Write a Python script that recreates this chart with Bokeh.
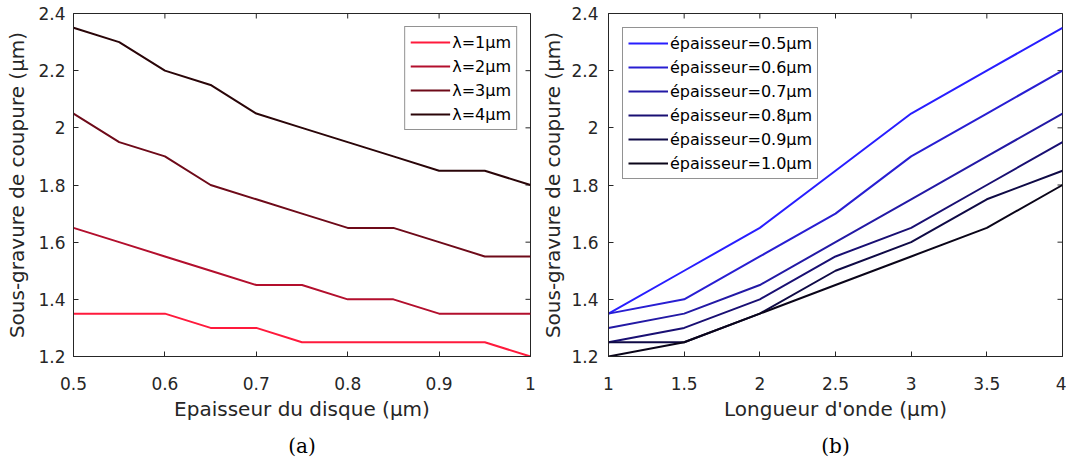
import math
from bokeh.plotting import figure
from bokeh.models import (FixedTicker, CustomJSTickFormatter, Legend,
                          LegendItem, Title, Range1d)
from bokeh.layouts import row
from bokeh.embed import file_html
from bokeh.resources import INLINE

# ---- data (a) ----
thickness = [0.5, 0.55, 0.6, 0.65, 0.7, 0.75, 0.8, 0.85, 0.9, 0.95, 1.0]
lam1 = [1.35, 1.35, 1.35, 1.30, 1.30, 1.25, 1.25, 1.25, 1.25, 1.25, 1.20]
lam2 = [1.65, 1.60, 1.55, 1.50, 1.45, 1.45, 1.40, 1.40, 1.35, 1.35, 1.35]
lam3 = [2.05, 1.95, 1.90, 1.80, 1.75, 1.70, 1.65, 1.65, 1.60, 1.55, 1.55]
lam4 = [2.35, 2.30, 2.20, 2.15, 2.05, 2.00, 1.95, 1.90, 1.85, 1.85, 1.80]
labels_a = ["λ=1μm", "λ=2μm", "λ=3μm", "λ=4μm"]
colors_a = ["#ff1a3c", "#b30f2d", "#6e0a19", "#2a0508"]

# ---- data (b) ----
wavelength = [1.0, 1.5, 2.0, 2.5, 3.0, 3.5, 4.0]
ep05 = [1.35, 1.50, 1.65, 1.85, 2.05, 2.20, 2.35]
ep06 = [1.35, 1.40, 1.55, 1.70, 1.90, 2.05, 2.20]
ep07 = [1.30, 1.35, 1.45, 1.60, 1.75, 1.90, 2.05]
ep08 = [1.25, 1.30, 1.40, 1.55, 1.65, 1.80, 1.95]
ep09 = [1.25, 1.25, 1.35, 1.50, 1.60, 1.75, 1.85]
ep10 = [1.20, 1.25, 1.35, 1.45, 1.55, 1.65, 1.80]
labels_b = ["épaisseur=0.5μm", "épaisseur=0.6μm", "épaisseur=0.7μm",
            "épaisseur=0.8μm", "épaisseur=0.9μm", "épaisseur=1.0μm"]
colors_b = ["#281eff", "#281ed2", "#2319a5", "#190f73", "#0f0a46", "#0a0519"]

yticks = [1.2, 1.4, 1.6, 1.8, 2.0, 2.2, 2.4]
xticks_a = [0.5, 0.6, 0.7, 0.8, 0.9, 1.0]
xticks_b = [1.0, 1.5, 2.0, 2.5, 3.0, 3.5, 4.0]

FONT = "DejaVu Sans"
AXC = "#262626"
fmt_js = "var s = tick.toFixed(2); s = s.replace(/0+$/, ''); s = s.replace(/\\.$/, ''); return s;"


def style(p, xticks, xr, ystand, ylstand):
    p.x_range = Range1d(*xr)
    p.y_range = Range1d(1.2, 2.4)
    p.xgrid.visible = False
    p.ygrid.visible = False
    p.outline_line_color = AXC
    p.outline_line_alpha = 1.0
    p.background_fill_color = "white"
    p.border_fill_color = "white"
    xa = p.below[0]
    ya = p.left[0]
    for ax, ticks, stand in ((xa, xticks, 20), (ya, yticks, ystand)):
        ax.ticker = FixedTicker(ticks=ticks)
        ax.formatter = CustomJSTickFormatter(code=fmt_js)
        ax.major_tick_in = 5
        ax.major_tick_out = 0
        ax.minor_tick_line_color = None
        ax.axis_line_color = AXC
        ax.major_tick_line_color = AXC
        ax.major_label_text_font = FONT
        ax.major_label_text_font_size = "17px"
        ax.major_label_text_line_height = 1.0
        ax.major_label_text_color = AXC
        ax.axis_label_text_font = FONT
        ax.axis_label_text_font_size = "20px"
        ax.axis_label_text_line_height = 1.0
        ax.axis_label_text_font_style = "normal"
        ax.axis_label_text_color = AXC
        ax.major_label_standoff = stand
    ya.axis_label_standoff = ylstand
    xa.axis_label_standoff = 4
    # mirrored ticks on top and right edges (box on), from the tick arrays
    p.scatter(x=xticks, y=[p.y_range.end] * len(xticks), marker="dash",
              angle=math.pi / 2, size=10, line_color=AXC, line_width=1)
    p.scatter(x=[p.x_range.end] * len(yticks), y=yticks, marker="dash",
              size=10, line_color=AXC, line_width=1)
    return xa, ya


def legend_style(leg):
    leg.label_text_font = FONT
    leg.label_text_font_size = "16px"
    leg.label_text_color = "black"
    leg.glyph_width = 40
    leg.glyph_height = 20
    leg.label_height = 20
    leg.spacing = 4
    leg.padding = 5
    leg.label_standoff = 2
    leg.border_line_color = AXC
    leg.border_line_width = 1
    leg.background_fill_color = "white"
    leg.background_fill_alpha = 1.0


def caption(p, text, off):
    t = Title(text=text, align="center", text_font="DejaVu Serif", text_font_size="20px",
              text_line_height=1.0, text_font_style="normal", text_color="black",
              offset=off, standoff=16)
    p.add_layout(t, "below")


H = 466

# ---- figure (a) ----
pa = figure(width=538, height=H, output_backend="svg", toolbar_location=None,
            min_border_left=73, min_border_right=8, min_border_top=13, min_border_bottom=110)
xa, ya = style(pa, xticks_a, (0.5, 1.0), 8, 6)
xa.axis_label = "Epaisseur du disque (μm)"
ya.axis_label = "Sous-gravure de coupure (μm)"
items = []
for ys, c, lab in zip([lam1, lam2, lam3, lam4], colors_a, labels_a):
    r = pa.line(thickness, ys, line_color=c, line_width=2)
    items.append(LegendItem(label=lab, renderers=[r]))
lega = Legend(items=items, location="top_right", margin=13)
legend_style(lega)
pa.add_layout(lega, "center")
caption(pa, "(a)", -30)

# ---- figure (b) ----
pb = figure(width=528, height=H, output_backend="svg", toolbar_location=None,
            min_border_left=69, min_border_right=4, min_border_top=13, min_border_bottom=110)
xb, yb = style(pb, xticks_b, (1.0, 4.0), 10, 3)
xb.axis_label = "Longueur d'onde (μm)"
yb.axis_label = "Sous-gravure de coupure (μm)"
items = []
for ys, c, lab in zip([ep05, ep06, ep07, ep08, ep09, ep10], colors_b, labels_b):
    r = pb.line(wavelength, ys, line_color=c, line_width=2)
    items.append(LegendItem(label=lab, renderers=[r]))
legb = Legend(items=items, location="top_left", margin=14)
legend_style(legb)
pb.add_layout(legb, "center")
caption(pb, "(b)", -29)

layout = row(pa, pb, spacing=0)
open("out.html", "w").write(file_html(layout, INLINE))
